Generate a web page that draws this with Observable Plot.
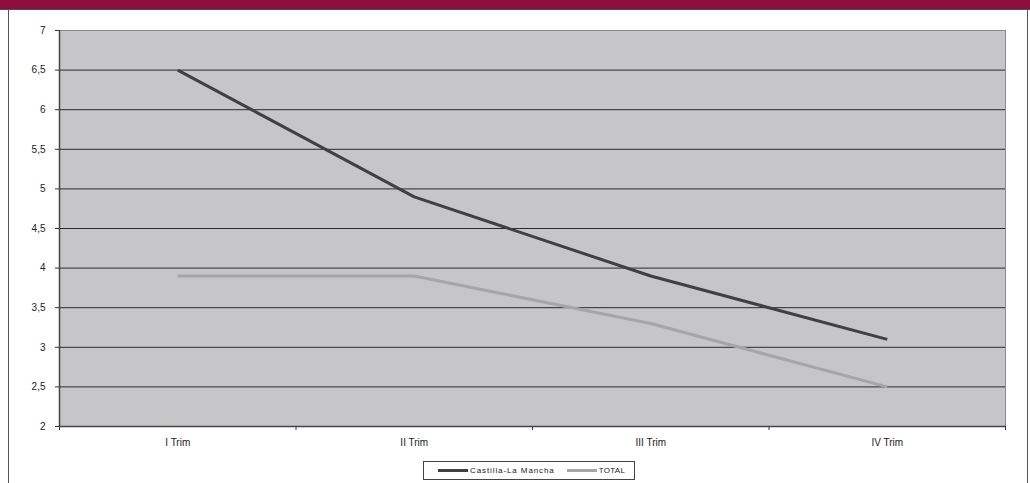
<!DOCTYPE html>
<html>
<head>
<meta charset="utf-8">
<script src="https://cdn.jsdelivr.net/npm/d3@7"></script>
<script src="https://cdn.jsdelivr.net/npm/@observablehq/plot@0.6"></script>
<style>
  body { margin: 0; background: #fff; font-family: "Liberation Sans", Arial, sans-serif; }
  #wrap { position: relative; width: 1030px; height: 483px; overflow: hidden; }
  #band { position: absolute; left: 0; top: 0; width: 1030px; height: 9px; background: #8c0e3b; border-bottom: 1px solid #5a4a50; }
  #frame { position: absolute; left: 8px; top: 10px; width: 1018px; height: 480px; border-left: 1px solid #555; border-right: 1px solid #555; }
  #chart { position: absolute; left: 0; top: 0; }
  #legend { position: absolute; left: 423px; top: 461px; width: 212px; height: 19px; border: 1px solid #444; background: #fff;
            font-size: 8px; color: #222; display: flex; align-items: center; box-sizing: border-box; }
  .sw { display: inline-block; width: 30px; height: 3px; margin-left: 14px; margin-right: 2px; }
  .lab { letter-spacing: 0.9px; }
</style>
</head>
<body>
<div id="wrap">
  <div id="band"></div>
  <div id="frame"></div>
  <div id="chart"></div>
  <div id="legend"></div>
</div>
<script>
const categories = ["I Trim", "II Trim", "III Trim", "IV Trim"];
const seriesNames = ["Castilla-La Mancha", "TOTAL"];
const castilla = [6.5, 4.9, 3.9, 3.1];
const total = [3.9, 3.9, 3.3, 2.5];
const yTicks = [2, 2.5, 3, 3.5, 4, 4.5, 5, 5.5, 6, 6.5, 7];
const colors = ["#404040", "#a6a6a6"];

const rows = [];
[castilla, total].forEach((vals, s) => vals.forEach((v, i) => rows.push({series: seriesNames[s], idx: i + 0.5, value: v})));

const fmt = d => String(d).replace(".", ",");

const chart = Plot.plot({
  width: 1030,
  height: 483,
  marginLeft: 59,
  marginRight: 25,
  marginTop: 30,
  marginBottom: 57,
  style: { background: "transparent", fontFamily: "Liberation Sans, Arial, sans-serif", fontSize: "10px", color: "#222" },
  x: { domain: [0, 4] },
  y: { domain: [2, 7] },
  color: { domain: seriesNames, range: colors },
  marks: [
    Plot.frame({ fill: "#c6c6c8", stroke: "#8a8a8a" }),
    Plot.gridY(yTicks.slice(1, -1), { stroke: "#2a2a2a", strokeOpacity: 1 }),
    Plot.axisY(yTicks, { tickFormat: fmt, tickSize: 4, tickPadding: 10, stroke: "#333", label: null, fontSize: 10 }),
    Plot.axisX([0, 1, 2, 3, 4], { tickFormat: () => "", tickSize: 4, stroke: "#333", label: null }),
    Plot.axisX(categories.map((c, i) => i + 0.5), { tickFormat: d => categories[Math.floor(d)], tickSize: 0, tickPadding: 12, label: null, fontSize: 10 }),
    Plot.ruleX([0], { stroke: "#444", strokeWidth: 1.5 }),
    Plot.ruleY([2], { stroke: "#444", strokeWidth: 1.5 }),
    Plot.line(rows, { x: "idx", y: "value", z: "series", stroke: "series", strokeWidth: 3, strokeLinejoin: "miter", strokeLinecap: "butt" })
  ]
});
document.getElementById("chart").appendChild(chart);

const legend = document.getElementById("legend");
seriesNames.forEach((name, i) => {
  const sw = document.createElement("span");
  sw.className = "sw";
  sw.style.background = colors[i];
  if (i === 1) sw.style.marginLeft = "12px";
  legend.appendChild(sw);
  const lab = document.createElement("span");
  lab.className = "lab";
  lab.textContent = name;
  if (i === 1) lab.style.letterSpacing = "0.3px";
  legend.appendChild(lab);
});
</script>
</body>
</html>
